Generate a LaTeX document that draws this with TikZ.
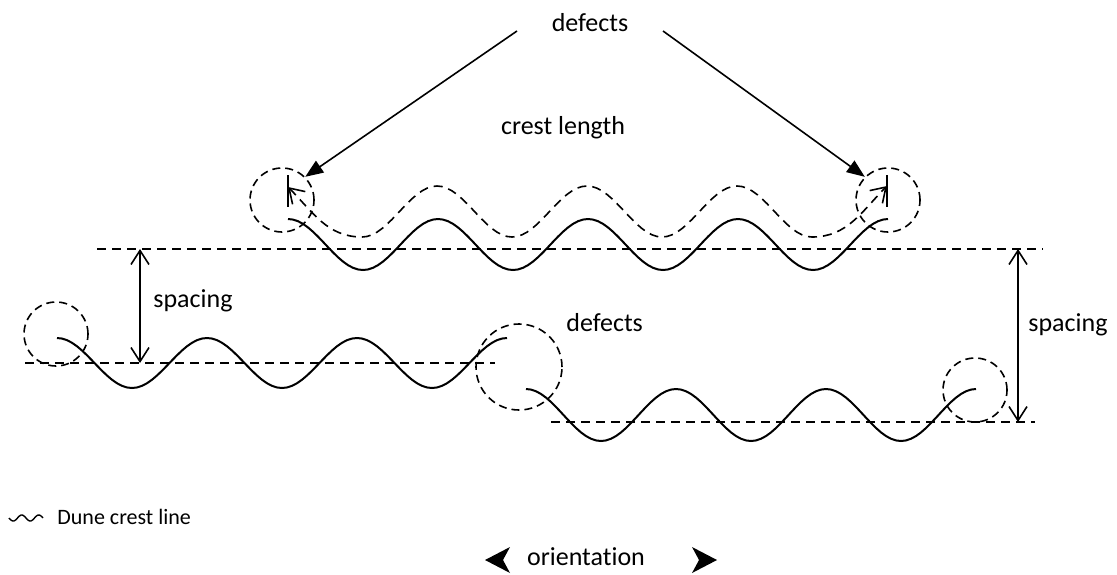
\documentclass[tikz,border=0pt]{standalone}
\usepackage{fontspec}
\setmainfont{Carlito}[Ligatures=NoCommon]
\usetikzlibrary{arrows.meta}

\begin{document}
\begin{tikzpicture}[
    x=0.5pt, y=0.5pt,
    crest/.style={line width=1pt},
    guide/.style={line width=0.8pt, dash pattern=on 4.5pt off 3pt},
    defect/.style={circle, draw, line width=0.8pt, dash pattern=on 4pt off 2.5pt, inner sep=0pt, minimum size=32pt},
    lbl/.style={font=\fontsize{13}{15}\selectfont, inner sep=0pt, anchor=base},
    pointer/.style={line width=0.8pt, -{Triangle[length=9pt,width=7pt]}},
    sparrow/.style={line width=0.8pt, {Straight Barb[length=7pt,width=9pt]}-{Straight Barb[length=7pt,width=9pt]}},
]
    \useasboundingbox (0,0) rectangle (1117,-574);

    % Labels
    \node[lbl] (topdef) at (590,-31) {defects};
    \node[lbl] (crestlen) at (563,-134) {crest length};
    \node[lbl, anchor=base west] (spaceL) at (153,-307) {spacing};
    \node[lbl, anchor=base west] (spaceR) at (1028,-331) {spacing};
    \node[lbl, anchor=base west] (middef) at (566,-331) {defects};
    \node[lbl] (orient) at (586,-565) {orientation};

    % Defect circles
    \node[defect] (dTL) at (282,-200) {};
    \node[defect] (dTR) at (888,-200) {};
    \node[defect] (dML) at (56,-334) {};
    \node[defect, minimum size=43pt] (dMC) at (519,-367) {};
    \node[defect] (dBR) at (975,-390) {};

    % Reference lines
    \coordinate (refTa) at (97,-249);
    \coordinate (refTb) at (1043,-249);
    \coordinate (refMa) at (25,-363);
    \coordinate (refMb) at (495,-363);
    \coordinate (refBa) at (551,-422);
    \coordinate (refBb) at (1035,-422);
    \draw[guide] (refTa) -- (refTb);
    \draw[guide] (refMa) -- (refMb);
    \draw[guide] (refBa) -- (refBb);

    % Dune crests
    \draw[crest] plot[domain=288:888, samples=121] (\x, {-244.5+25.5*cos((\x-288)*2.4)});
    \draw[crest] plot[domain=57:507, samples=91] (\x, {-363+25*cos((\x-57)*2.4)});
    \draw[crest] plot[domain=526:976, samples=91] (\x, {-415+26*cos((\x-526)*2.4)});

    % Crest length
    \coordinate (clA) at (288,-187);
    \coordinate (clB) at (887,-186);
    \draw[guide, {Straight Barb[length=7pt,width=9pt]}-{Straight Barb[length=7pt,width=9pt]}]
        (clA) to[out=-45, in=180] (362,-237)
        -- plot[domain=362:812, samples=91] (\x, {-211.5-25.5*cos((\x-362)*2.4)})
        to[out=0, in=-135] (clB);
    \draw[line width=0.8pt] (288,-175) -- (288,-207);
    \draw[line width=0.8pt] (887,-175) -- (887,-207);

    % Defect pointers
    \coordinate (ptL) at (517,-31);
    \coordinate (ptR) at (663,-31);
    \draw[pointer] (ptL) -- (dTL.45);
    \draw[pointer] (ptR) -- (dTR.135);

    % Spacing
    \coordinate (spLa) at (140,-249);
    \coordinate (spLb) at (140,-363);
    \coordinate (spRa) at (1018,-249);
    \coordinate (spRb) at (1018,-422);
    \draw[sparrow] (spLa) -- (spLb);
    \draw[sparrow] (spRa) -- (spRb);

    % Legend
    \draw[line width=0.7pt] plot[domain=9:43, samples=50] (\x, {-518-3*sin((\x-9)*21.18)});
    \node[font=\fontsize{11}{13}\selectfont, inner sep=0pt, anchor=base west] (legend) at (57,-524) {Dune crest line};

    % Orientation heads
    \fill (485,-560) -- (510,-547) -- (503,-560) -- (510,-573) -- cycle;
    \fill (717,-560) -- (692,-547) -- (699,-560) -- (692,-573) -- cycle;
\end{tikzpicture}
\end{document}
